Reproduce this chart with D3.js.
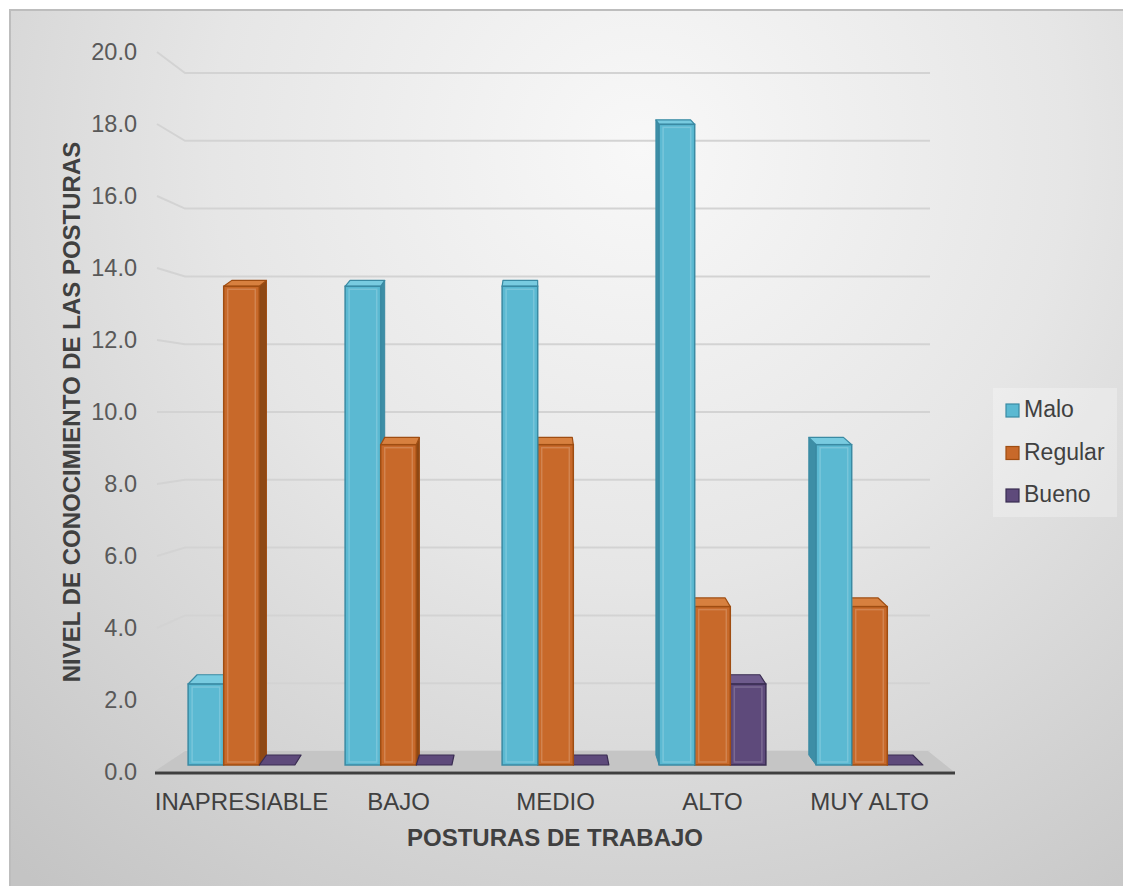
<!DOCTYPE html>
<html>
<head>
<meta charset="utf-8">
<script src="https://cdn.jsdelivr.net/npm/d3@7"></script>
<style>
  html, body { margin: 0; padding: 0; background: #ffffff; }
  svg { display: block; }
  text { font-family: "Liberation Sans", Arial, sans-serif; }
</style>
</head>
<body>
<svg id="chart" width="1123" height="886"></svg>
<script>
// Posture categories and knowledge-level series (percentages)
const categories = ["INAPRESIABLE", "BAJO", "MEDIO", "ALTO", "MUY ALTO"];
const seriesNames = ["Malo", "Regular", "Bueno"];
const malo    = [2.3, 13.6, 13.6, 18.2, 9.1];
const regular = [13.6, 9.1, 9.1, 4.5, 4.5];
const bueno   = [0.0, 0.0, 0.0, 2.3, 0.0];
const tickValues = [0, 2, 4, 6, 8, 10, 12, 14, 16, 18, 20];
const yTitle = "NIVEL DE CONOCIMIENTO DE LAS POSTURAS";
const xTitle = "POSTURAS DE TRABAJO";

const seriesValues = [malo, regular, bueno];
const palette = {
  Malo:    { front: "#5bb9d2", side: "#3d8ea6", top: "#78cbe0", stroke: "#3a8aa3" },
  Regular: { front: "#c8692a", side: "#8e4915", top: "#d7803f", stroke: "#9f4d12" },
  Bueno:   { front: "#5e4a7b", side: "#3e3059", top: "#6e5b8c", stroke: "#3a2d52" }
};

const svg = d3.select("#chart");
const W = 1123, H = 886;

// Chart area background: soft radial light
const defs = svg.append("defs");
const bg = defs.append("radialGradient").attr("id", "bgGrad")
  .attr("gradientUnits", "userSpaceOnUse")
  .attr("cx", 640).attr("cy", 150).attr("r", 950);
bg.append("stop").attr("offset", "0%").attr("stop-color", "#f8f8f8");
bg.append("stop").attr("offset", "45%").attr("stop-color", "#e6e6e6");
bg.append("stop").attr("offset", "100%").attr("stop-color", "#c4c4c4");

svg.append("rect").attr("x", 0).attr("y", 0).attr("width", W).attr("height", H).attr("fill", "#ffffff");
svg.append("rect").attr("x", 10).attr("y", 10).attr("width", W + 20).attr("height", H + 20)
  .attr("fill", "url(#bgGrad)").attr("stroke", "#bdbdbd").attr("stroke-width", 2);

// Scales: category bands on the front plane, value scales for the
// label plane, the bar front plane and the back wall
const x = d3.scaleBand().domain(categories).range([163, 948]).paddingInner(0.32).paddingOuter(0.16);
const xs = d3.scaleBand().domain(seriesNames).range([0, x.bandwidth()]);
const yFront = d3.scaleLinear().domain([0, 20]).range([765, 61]);
const yBack  = d3.scaleLinear().domain([0, 20]).range([751, 73]);
const yLab   = d3.scaleLinear().domain([0, 20]).range([772, 52]);
const fmt = d3.format(".1f");

const wallFrontX = 157, wallBackX = 185, wallRightX = 930;

// Gridlines: side-wall diagonal plus back-wall horizontal
const grid = svg.append("g");
tickValues.forEach(v => {
  grid.append("path")
    .attr("d", `M${wallFrontX},${yLab(v)} L${wallBackX},${yBack(v)} L${wallRightX},${yBack(v)}`)
    .attr("fill", "none").attr("stroke", "#d3d3d3").attr("stroke-width", 2);
});

// Floor slab
svg.append("path")
  .attr("d", `M155,771 L${wallBackX},${yBack(0)} L928,${yBack(0)} L953,771 Z`)
  .attr("fill", "#c5c5c5");

// Value axis labels
svg.append("g").selectAll("text").data(tickValues).join("text")
  .attr("x", 137).attr("y", d => yLab(d) + 8)
  .attr("text-anchor", "end").attr("font-size", 23.5).attr("fill", "#595959")
  .text(d => fmt(d));

// Depth projection toward a vanishing column
const vpX = 535, depthK = 0.026;
const dxAt = px => depthK * (vpX - px);
const dyAt = py => 4 + 6 * (py - yFront(20)) / (yFront(0) - yFront(20));

const bars = [];
categories.forEach((c, ci) => {
  seriesNames.forEach((s, si) => {
    const v = seriesValues[si][ci];
    const x0 = x(c) + xs(s), x1 = x0 + xs.bandwidth();
    bars.push({ c, s, v, x0, x1, cx: (x0 + x1) / 2 });
  });
});
// Paint bars farthest from the vanishing column first
bars.sort((a, b) => Math.abs(b.cx - vpX) - Math.abs(a.cx - vpX));

const barG = svg.append("g");
bars.forEach(b => {
  const col = palette[b.s];
  const yt = yFront(b.v), yb = yFront(0);
  const d0 = dxAt(b.x0), d1 = dxAt(b.x1);
  const dyT = dyAt(yt), dyB = dyAt(yb);
  const g = barG.append("g");
  // side face
  if (b.v > 0) {
    if (d1 > 0.5) {
      g.append("path")
        .attr("d", `M${b.x1},${yt} L${b.x1 + d1},${yt - dyT} L${b.x1 + d1},${yb - dyB} L${b.x1},${yb} Z`)
        .attr("fill", col.side).attr("stroke", col.stroke).attr("stroke-width", 1);
    } else if (d0 < -0.5) {
      g.append("path")
        .attr("d", `M${b.x0},${yt} L${b.x0 + d0},${yt - dyT} L${b.x0 + d0},${yb - dyB} L${b.x0},${yb} Z`)
        .attr("fill", col.side).attr("stroke", col.stroke).attr("stroke-width", 1);
    }
  }
  // top face
  g.append("path")
    .attr("d", `M${b.x0},${yt} L${b.x0 + d0},${yt - dyT} L${b.x1 + d1},${yt - dyT} L${b.x1},${yt} Z`)
    .attr("fill", b.v > 0 ? col.top : col.front).attr("stroke", col.stroke).attr("stroke-width", 1.2)
    .attr("stroke-linejoin", "round");
  // front face
  if (b.v > 0) {
    g.append("rect")
      .attr("x", b.x0).attr("y", yt).attr("width", b.x1 - b.x0).attr("height", yb - yt)
      .attr("fill", col.front).attr("stroke", col.stroke).attr("stroke-width", 1.5);
    // bevel highlight
    g.append("rect")
      .attr("x", b.x0 + 4).attr("y", yt + 3).attr("width", Math.max(0, b.x1 - b.x0 - 8))
      .attr("height", Math.max(0, yb - yt - 6))
      .attr("fill", "none").attr("stroke", "#ffffff").attr("stroke-opacity", 0.18).attr("stroke-width", 1.5);
  }
});

// Category axis line
svg.append("line").attr("x1", 155).attr("x2", 955).attr("y1", 773).attr("y2", 773)
  .attr("stroke", "#3f3f3f").attr("stroke-width", 3);

// Category labels
svg.append("g").selectAll("text").data(categories).join("text")
  .attr("x", d => x(d) + x.bandwidth() / 2).attr("y", 810)
  .attr("text-anchor", "middle").attr("font-size", 24).attr("fill", "#404040")
  .text(d => d);

// Axis titles
svg.append("text").attr("x", 555).attr("y", 846).attr("text-anchor", "middle")
  .attr("font-size", 24).attr("font-weight", "bold").attr("fill", "#404040").text(xTitle);
svg.append("text").attr("transform", "translate(80,412) rotate(-90)").attr("text-anchor", "middle")
  .attr("font-size", 24).attr("font-weight", "bold").attr("fill", "#404040").text(yTitle);

// Legend
const legend = svg.append("g");
legend.append("rect").attr("x", 993).attr("y", 388).attr("width", 124).attr("height", 129)
  .attr("fill", "#ffffff").attr("fill-opacity", 0.28);
seriesNames.forEach((s, i) => {
  const yBase = 417 + i * 42.5;
  legend.append("rect").attr("x", 1006).attr("y", yBase - 13).attr("width", 13).attr("height", 13)
    .attr("fill", palette[s].front).attr("stroke", palette[s].stroke).attr("stroke-width", 1.2);
  legend.append("text").attr("x", 1024).attr("y", yBase).attr("font-size", 23)
    .attr("fill", "#404040").text(s);
});
</script>
</body>
</html>
